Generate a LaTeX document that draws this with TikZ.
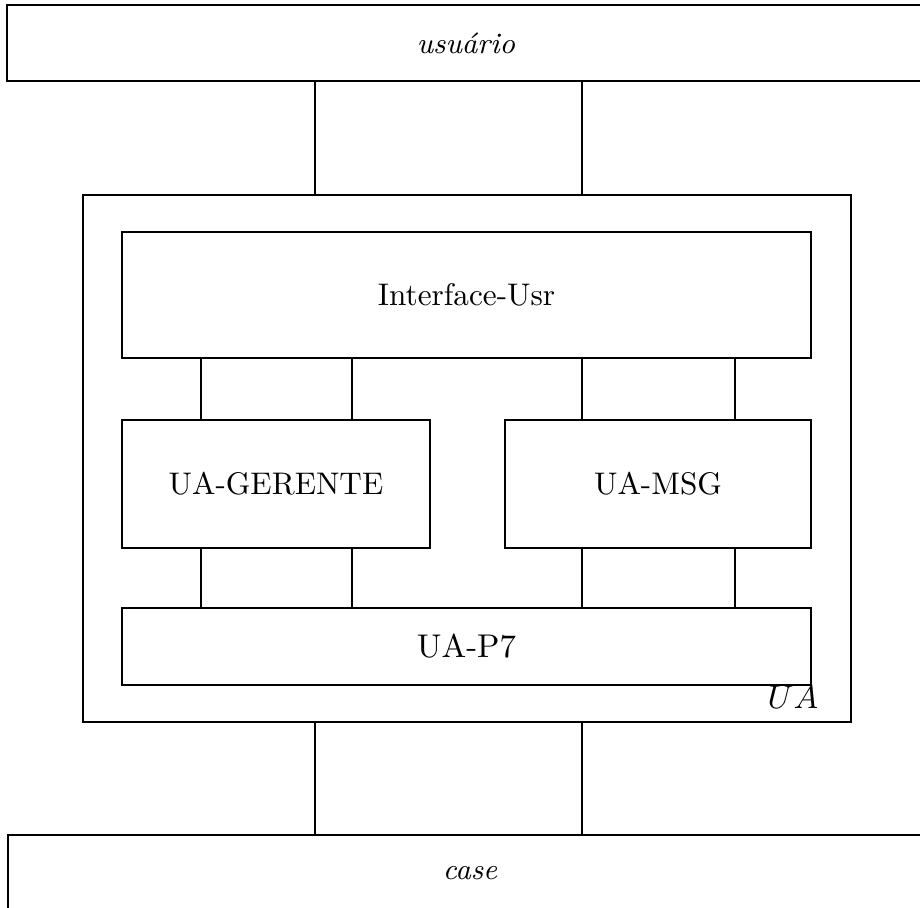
\documentclass[tikz,border=0pt]{standalone}
\usepackage{fontspec}
\begin{document}
\begin{tikzpicture}[x=0.304pt,y=-0.304pt,
  box/.style={draw,line width=0.55pt,inner sep=0pt,rectangle},
  link/.style={draw,line width=0.55pt},
  ital/.style={font=\small\itshape\addfontfeatures{LetterSpace=6}}]
\useasboundingbox (0,0) rectangle (920,908);
\node[box,ital,minimum width=918*0.304pt,minimum height=76*0.304pt] (usr) at (466,43) {usuário};
\node[box,minimum width=768*0.304pt,minimum height=527*0.304pt] (ua) at (467,458.5) {};
\node[box,minimum width=689*0.304pt,minimum height=126*0.304pt] (iu) at (466.5,295) {\fontsize{9.5}{11}\selectfont Interface-Usr};
\node[box,minimum width=308*0.304pt,minimum height=128*0.304pt] (ger) at (276,484) {\fontsize{9.5}{11}\selectfont UA-GERENTE};
\node[box,minimum width=306*0.304pt,minimum height=128*0.304pt] (msg) at (658,484) {\fontsize{9.5}{11}\selectfont UA-MSG};
\node[box,minimum width=689*0.304pt,minimum height=77*0.304pt] (p7) at (466.5,646.5) {UA-P7};
\node[anchor=base east,inner sep=0pt] at (819,709) (ual) {$UA$};
\node[box,ital,minimum width=924*0.304pt,minimum height=76*0.304pt] (cs) at (470,873) {case};
\coordinate (a1) at (315,0);
\coordinate (a2) at (582,0);
\coordinate (b1) at (201,0);
\coordinate (b2) at (352,0);
\coordinate (b3) at (582,0);
\coordinate (b4) at (735,0);
\foreach \c in {a1,a2}{
  \draw[link] (usr.south -| \c) -- (ua.north -| \c);
  \draw[link] (ua.south -| \c) -- (cs.north -| \c);
}
\foreach \c/\t in {b1/ger,b2/ger,b3/msg,b4/msg}{
  \draw[link] (iu.south -| \c) -- (\t.north -| \c);
  \draw[link] (\t.south -| \c) -- (p7.north -| \c);
}
\end{tikzpicture}
\end{document}
